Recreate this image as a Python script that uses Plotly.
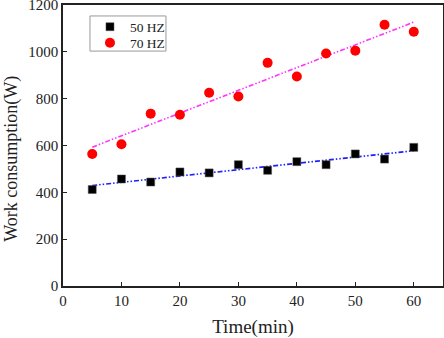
import numpy as np
import plotly.graph_objects as go

time_min = [5, 10, 15, 20, 25, 30, 35, 40, 45, 50, 55, 60]
work_50hz = [412, 457, 444, 487, 483, 518, 494, 531, 518, 564, 542, 592]
work_70hz = [564, 605, 736, 731, 825, 809, 953, 895, 993, 1005, 1116, 1086]
x_ticks = [0, 10, 20, 30, 40, 50, 60]
y_ticks = [0, 200, 400, 600, 800, 1000, 1200]

x = np.array(time_min, dtype=float)
fit50 = np.polyval(np.polyfit(x, work_50hz, 1), x)
fit70 = np.polyval(np.polyfit(x, work_70hz, 1), x)

font = "Liberation Serif, Times New Roman, serif"
fig = go.Figure()
fig.add_trace(go.Scatter(x=time_min, y=fit50, mode="lines", showlegend=False,
                         line=dict(color="#1f1fff", width=1.6, dash="5px,2px,1.5px,2px,1.5px,2px")))
fig.add_trace(go.Scatter(x=time_min, y=fit70, mode="lines", showlegend=False,
                         line=dict(color="#ff33ff", width=1.6, dash="5px,2px,1.5px,2px,1.5px,2px")))
fig.add_trace(go.Scatter(x=time_min, y=work_50hz, mode="markers", name="50 HZ", legend="legend",
                         marker=dict(symbol="square", size=8, color="black",
                                     line=dict(color="#555", width=0.5))))
fig.add_trace(go.Scatter(x=time_min, y=work_70hz, mode="markers", name="70 HZ", legend="legend2",
                         marker=dict(symbol="circle", size=10, color="#ff0000",
                                     line=dict(width=0))))

axis_common = dict(showgrid=False, zeroline=False, showline=True, linecolor="#222",
                   linewidth=1.5, mirror=True, ticks="inside", ticklen=4,
                   tickwidth=1, tickcolor="#222", automargin=False,
                   ticklabeloverflow="allow",
                   tickfont=dict(family=font, size=15, color="#222"))
fig.update_xaxes(range=[0, 65], tickvals=x_ticks,
                 title=dict(text="Time(min)", font=dict(family=font, size=19, color="#222"),
                            standoff=13), **axis_common)
fig.update_yaxes(range=[0, 1200], tickvals=y_ticks, **axis_common)

fig.add_annotation(text="Work consumption(W)", textangle=-90, showarrow=False,
                   xref="paper", yref="paper", x=-0.136, y=0.454,
                   xanchor="center", yanchor="middle",
                   font=dict(family=font, size=18, color="#222"))

fig.add_shape(type="rect", xref="paper", yref="paper", x0=0.071, x1=0.271, y0=0.836, y1=0.961,
              line=dict(color="#999", width=1), fillcolor="white", layer="below")

leg_common = dict(xanchor="left", yanchor="middle", bgcolor="rgba(0,0,0,0)", borderwidth=0,
                  font=dict(family=font, size=13.5, color="#222"), itemwidth=30)
fig.update_layout(
    width=444, height=338,
    margin=dict(l=63, r=1, t=5, b=52),
    plot_bgcolor="white", paper_bgcolor="white",
    legend=dict(x=0.071, y=0.922, **leg_common),
    legend2=dict(x=0.071, y=0.865, **leg_common),
)
fig.write_html("out.html", config={"displayModeBar": False},
               post_script="document.body.style.margin='0';document.body.style.overflow='hidden';")
